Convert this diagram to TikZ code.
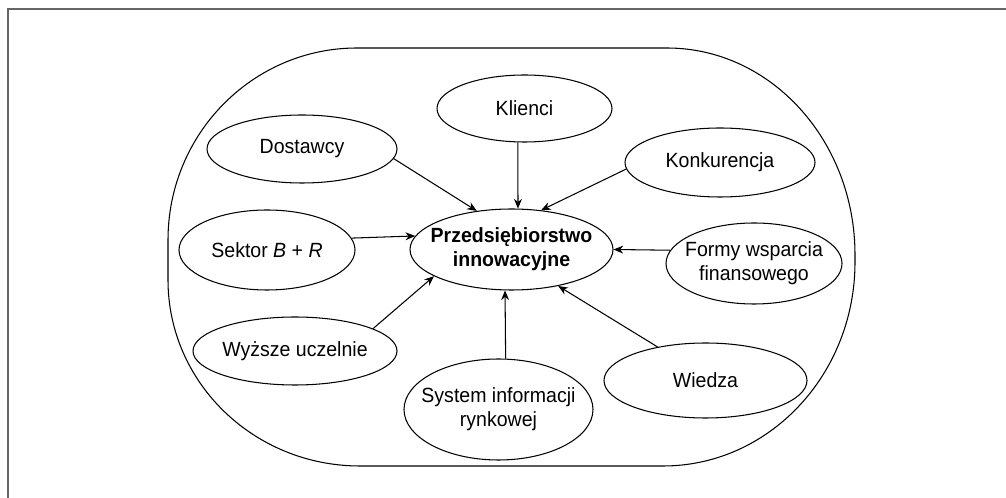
\documentclass[tikz,border=0pt]{standalone}
\usepackage{fontspec}
\setmainfont{Liberation Sans}[FakeStretch=0.95]
\usepackage{tikz}
\usetikzlibrary{arrows.meta,shapes.geometric}
\tikzset{Elp/.style={ellipse,draw,line width=0.6pt,inner sep=-20pt,align=center,font=\fontsize{11.7}{13.7}\selectfont}}

\begin{document}
\begin{tikzpicture}
    \useasboundingbox (0,0) rectangle (20.12,9.96);
    \draw[black!60,line width=0.9pt] (0.16,0) |- (20.12,9.78);
    \draw[line width=0.6pt] (7.14,9.0) -- (13.34,9.0)
      arc[start angle=90,end angle=0,x radius=3.76,y radius=4.14] -- (17.10,4.72)
      arc[start angle=0,end angle=-90,x radius=3.84,y radius=4.08] -- (7.20,0.64)
      arc[start angle=270,end angle=180,x radius=3.84,y radius=3.72] -- (3.36,5.16)
      arc[start angle=180,end angle=90,x radius=3.78,y radius=3.84] -- cycle;
    \node[Elp,minimum width=4.06cm,minimum height=1.62cm] (P) at (10.23,4.97) {\textbf{Przedsiębiorstwo}\\\textbf{innowacyjne}};
    \node[Elp,minimum width=3.5cm,minimum height=1.34cm] (F1) at (10.49,7.79) {Klienci};
    \node[Elp,minimum width=3.8cm,minimum height=1.36cm] (F2) at (6.04,6.98) {Dostawcy};
    \node[Elp,minimum width=3.8cm,minimum height=1.38cm] (F3) at (14.40,6.71) {Konkurencja};
    \node[Elp,minimum width=3.52cm,minimum height=1.6cm] (F4) at (5.34,4.96) {Sektor \textit{B}~+~\textit{R}};
    \node[Elp,minimum width=3.52cm,minimum height=1.62cm] (F5) at (15.08,4.69) {Formy wsparcia\\finansowego};
    \node[Elp,minimum width=4.08cm,minimum height=1.36cm] (F6) at (5.90,2.94) {Wyższe uczelnie};
    \node[Elp,minimum width=3.78cm,minimum height=2.02cm] (F7) at (9.97,1.77) {System informacji\\rynkowej};
    \node[Elp,minimum width=4.06cm,minimum height=1.5cm] (F8) at (14.11,2.35) {Wiedza};
    \begin{scope}[-{Stealth[length=5.5pt,width=4.5pt]},line width=0.6pt]
      \draw (F1.259) -- (P.81);
      \draw (F2.-6.7) -- (P.132.6);
      \draw (F3.184.6) -- (P.53.5);
      \draw (F4.8.7) -- (P.172.8);
      \draw (F5.171.9) -- (P.-0.9);
      \draw (F6.16.6) -- (P.199);
      \draw (F7.82.7) -- (P.261);
      \draw (F8.145.6) -- (P.-38.5);
    \end{scope}
\end{tikzpicture}
\end{document}
